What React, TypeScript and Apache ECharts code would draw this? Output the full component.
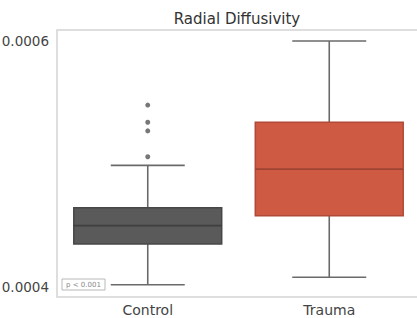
import React, { useEffect, useRef } from "react";
import * as echarts from "echarts";

const categories = ["Control", "Trauma"];
// [min, Q1, median, Q3, max]
const boxStats = [
  [0.000402, 0.000435, 0.00045, 0.0004645, 0.000499],
  [0.000408, 0.000458, 0.000496, 0.000534, 0.0006],
];
const controlOutliers = [0.000548, 0.000534, 0.000527, 0.000506];
const yTicks = [0.0004, 0.0006];
const titleText = "Radial Diffusivity";
const noteText = "p < 0.001";

const fills = ["#5a5a5a", "#cf5a43"];
const edges = ["#474747", "#b04a38"];

export default function App() {
  const ref = useRef<HTMLDivElement>(null);
  useEffect(() => {
    if (!ref.current) return;
    const chart = echarts.init(ref.current, undefined, { renderer: "svg" });
    const boxData = boxStats.map((s, i) => [i, ...s]);
    const outlierData = controlOutliers.map((v) => [0, v]);
    chart.setOption({
      animation: false,
      textStyle: { fontFamily: "DejaVu Sans" },
      grid: {
        left: 57,
        top: 30,
        bottom: 21,
        width: 363,
        containLabel: false,
        outerBoundsMode: "none",
        show: true,
        borderColor: "#d4d4d4",
        borderWidth: 1.5,
        backgroundColor: "#ffffff",
      },
      xAxis: {
        type: "category",
        data: categories,
        axisLine: { show: false },
        axisTick: { show: false },
        axisLabel: { fontSize: 14, color: "#444", margin: 6, fontFamily: "DejaVu Sans" },
      },
      yAxis: {
        type: "value",
        min: 0.000392,
        max: 0.000609,
        splitLine: { show: false },
        axisLine: { show: false },
        axisTick: { show: false },
        axisLabel: {
          fontSize: 13.5,
          color: "#444",
          margin: 8,
          fontFamily: "DejaVu Sans",
          customValues: yTicks,
          formatter: (v: number) => v.toFixed(4),
        },
      },
      graphic: [
        {
          type: "text",
          x: 237,
          y: 19,
          style: {
            text: titleText,
            align: "center",
            verticalAlign: "middle",
            fontSize: 15,
            fontFamily: "DejaVu Sans",
            fill: "#333",
          },
        },
        {
          type: "rect",
          shape: { x: 62, y: 279, width: 43, height: 11 },
          style: { fill: "#fff", stroke: "#b8b8b8", lineWidth: 1 },
        },
        {
          type: "text",
          x: 83.5,
          y: 284.5,
          style: {
            text: noteText,
            align: "center",
            verticalAlign: "middle",
            fontSize: 7,
            fontFamily: "DejaVu Sans",
            fill: "#888",
          },
        },
      ],
      series: [
        {
          type: "custom",
          data: boxData,
          encode: { x: 0, y: [1, 2, 3, 4, 5] },
          renderItem: (params: any, api: any) => {
            const ci = api.value(0);
            const band = api.size([1, 0])[0];
            const w = band * 0.815;
            const capW = w / 2;
            const pMin = api.coord([ci, api.value(1)]);
            const pQ1 = api.coord([ci, api.value(2)]);
            const pMed = api.coord([ci, api.value(3)]);
            const pQ3 = api.coord([ci, api.value(4)]);
            const pMax = api.coord([ci, api.value(5)]);
            const cx = pMed[0];
            const lineStyle = { stroke: "#6a6a6a", lineWidth: 1.6 };
            return {
              type: "group",
              children: [
                { type: "line", shape: { x1: cx, y1: pQ1[1], x2: cx, y2: pMin[1] }, style: lineStyle },
                { type: "line", shape: { x1: cx, y1: pQ3[1], x2: cx, y2: pMax[1] }, style: lineStyle },
                { type: "line", shape: { x1: cx - capW / 2, y1: pMin[1], x2: cx + capW / 2, y2: pMin[1] }, style: lineStyle },
                { type: "line", shape: { x1: cx - capW / 2, y1: pMax[1], x2: cx + capW / 2, y2: pMax[1] }, style: lineStyle },
                {
                  type: "rect",
                  shape: { x: cx - w / 2, y: pQ3[1], width: w, height: pQ1[1] - pQ3[1] },
                  style: { fill: fills[ci], stroke: edges[ci], lineWidth: 1.5 },
                },
                {
                  type: "line",
                  shape: { x1: cx - w / 2, y1: pMed[1], x2: cx + w / 2, y2: pMed[1] },
                  style: { stroke: ci === 0 ? "#3f3f3f" : "#9e4334", lineWidth: 1.8 },
                },
              ],
            };
          },
        },
        {
          type: "scatter",
          data: outlierData,
          symbol: "circle",
          symbolSize: 5,
          itemStyle: { color: "#555" },
        },
      ],
    });
    return () => chart.dispose();
  }, []);
  return (
    <div
      ref={ref}
      style={{ position: "absolute", left: 0, top: 0, width: 417, height: 318 }}
    />
  );
}
